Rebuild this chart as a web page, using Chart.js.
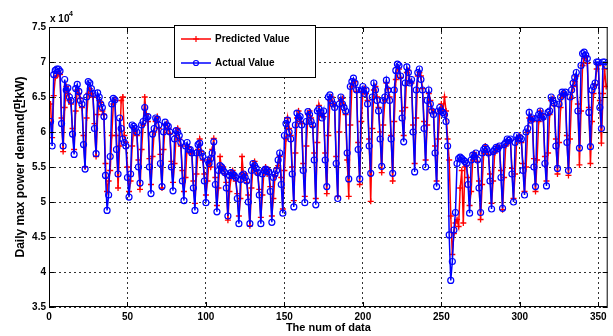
<!DOCTYPE html>
<html>
<head>
<meta charset="utf-8">
<script src="https://cdn.jsdelivr.net/npm/chart.js@4/dist/chart.umd.min.js"></script>
<style>
  html, body { margin: 0; padding: 0; background: #fff; }
  canvas { display: block; }
</style>
</head>
<body>
<canvas id="chart" width="613" height="336"></canvas>
<script>
// daily max power demand, units of 10^4 (rows of 7 days, Sat..Fri)
const actualDemand = [
  6.15, 5.80, 6.82, 6.88, 6.90, 6.90, 6.87,
  6.12, 5.80, 6.75, 6.60, 6.63, 6.50, 6.45,
  5.97, 5.68, 6.62, 6.68, 6.58, 6.45, 6.40,
  5.82, 5.47, 6.50, 6.72, 6.70, 6.62, 6.55,
  6.05, 5.69, 6.56, 6.50, 6.40, 6.35, 6.22,
  5.38, 4.88, 5.10, 5.65, 6.40, 6.48, 6.46,
  5.75, 5.40, 6.20, 6.05, 5.90, 5.85, 5.80,
  5.35, 5.07, 5.40, 6.10, 6.08, 6.05, 6.00,
  5.50, 5.27, 6.10, 6.15, 6.35, 6.20, 6.22,
  5.50, 5.12, 5.97, 6.05, 6.20, 6.18, 6.10,
  5.55, 5.22, 6.00, 6.14, 6.10, 6.08, 6.00,
  5.50, 5.16, 5.90, 6.02, 6.00, 5.95, 5.85,
  5.30, 5.02, 5.80, 5.85, 5.75, 5.75, 5.70,
  5.20, 4.88, 5.70, 5.82, 5.84, 5.70, 5.65,
  5.30, 4.99, 5.60, 5.55, 5.62, 5.70, 5.86,
  5.25, 4.86, 5.45, 5.52, 5.50, 5.45, 5.42,
  5.20, 4.80, 5.38, 5.42, 5.40, 5.38, 5.35,
  5.05, 4.69, 5.32, 5.38, 5.40, 5.35, 5.30,
  5.00, 4.69, 5.45, 5.55, 5.52, 5.48, 5.42,
  5.10, 4.69, 5.40, 5.45, 5.47, 5.45, 5.43,
  5.15, 4.71, 5.35, 5.40, 5.45, 5.60, 5.70,
  5.25, 4.84, 5.95, 6.12, 6.17, 6.00, 5.90,
  5.40, 4.93, 6.10, 6.27, 6.20, 6.22, 6.10,
  5.45, 4.99, 6.15, 6.29, 6.25, 6.15, 6.10,
  5.60, 4.96, 6.30, 6.33, 6.28, 6.20, 6.30,
  5.60, 5.22, 6.50, 6.53, 6.45, 6.40, 6.35,
  5.55, 5.05, 6.40, 6.50, 6.40, 6.35, 6.30,
  5.70, 5.33, 6.65, 6.72, 6.77, 6.70, 6.60,
  5.75, 5.33, 6.60, 6.65, 6.55, 6.60, 6.40,
  5.80, 5.41, 6.50, 6.70, 6.60, 6.45, 6.30,
  5.90, 5.51, 6.45, 6.50, 6.74, 6.60, 6.45,
  5.90, 5.41, 6.60, 6.88, 6.97, 6.95, 6.80,
  6.20, 5.86, 6.70, 6.93, 6.85, 6.70, 6.75,
  6.00, 5.43, 6.60, 6.85, 6.90, 6.75, 6.60,
  6.05, 5.50, 6.45, 6.60, 6.40, 6.30, 6.25,
  5.70, 5.22, 6.30, 6.35, 6.30, 6.28, 6.25,
  6.15, 5.80, 4.53, 3.88, 4.15, 4.60, 4.85,
  5.55, 5.62, 5.64, 5.62, 5.60, 5.58, 5.55,
  5.25, 4.84, 5.60, 5.67, 5.65, 5.70, 5.60,
  5.20, 4.85, 5.70, 5.75, 5.78, 5.75, 5.70,
  5.30, 4.90, 5.72, 5.75, 5.78, 5.76, 5.80,
  5.35, 4.91, 5.82, 5.85, 5.90, 5.88, 5.90,
  5.40, 5.00, 5.85, 5.95, 5.90, 5.92, 5.90,
  5.45, 5.10, 6.00, 6.05, 6.28, 6.17, 6.20,
  5.50, 5.22, 6.20, 6.25, 6.30, 6.20, 6.22,
  5.55, 5.23, 6.28, 6.30, 6.50, 6.45, 6.41,
  5.80, 5.48, 6.40, 6.50, 6.57, 6.55, 6.57,
  5.85, 5.45, 6.50, 6.60, 6.70, 6.78, 6.85,
  6.30, 5.77, 6.95, 7.12, 7.14, 7.10, 7.05,
  6.28, 5.79, 6.60, 6.65, 6.70, 7.00, 7.00,
  6.35, 6.05, 7.00, 7.00, 6.95
];

const predictedDemand = [
  6.40, 5.92, 6.52, 6.78, 6.80, 6.85, 6.82,
  6.20, 5.72, 6.35, 6.65, 6.55, 6.45, 6.40,
  6.05, 5.75, 6.30, 6.60, 6.55, 6.48, 6.35,
  5.95, 5.50, 6.20, 6.55, 6.62, 6.55, 6.50,
  6.12, 5.65, 6.25, 6.45, 6.42, 6.30, 6.25,
  5.55, 5.15, 5.30, 5.45, 5.95, 6.40, 6.45,
  5.95, 5.20, 5.80, 6.45, 6.50, 5.95, 5.85,
  5.50, 5.15, 5.30, 5.80, 6.05, 6.00, 5.95,
  5.60, 5.18, 5.75, 6.10, 6.50, 6.25, 6.15,
  5.62, 5.25, 5.65, 6.00, 6.15, 6.22, 6.05,
  5.68, 5.20, 5.75, 6.10, 6.12, 6.05, 5.98,
  5.58, 5.28, 5.55, 5.95, 6.05, 5.90, 5.80,
  5.45, 5.15, 5.35, 5.80, 5.78, 5.70, 5.72,
  5.30, 4.98, 5.40, 5.75, 5.90, 5.72, 5.60,
  5.40, 5.10, 5.30, 5.60, 5.50, 5.75, 5.91,
  5.35, 4.95, 5.20, 5.65, 5.45, 5.50, 5.40,
  5.28, 4.74, 5.15, 5.35, 5.45, 5.38, 5.30,
  5.12, 4.80, 5.05, 5.65, 5.35, 5.40, 5.28,
  5.10, 4.66, 5.20, 5.50, 5.58, 5.45, 5.40,
  5.18, 4.78, 5.10, 5.45, 5.50, 5.40, 5.46,
  5.22, 4.80, 5.05, 5.38, 5.48, 5.52, 5.65,
  5.35, 4.90, 5.45, 5.90, 6.20, 6.05, 5.95,
  5.50, 5.02, 5.70, 6.20, 6.30, 6.15, 6.12,
  5.55, 5.08, 5.80, 6.25, 6.30, 6.20, 6.08,
  5.70, 5.05, 5.85, 6.38, 6.25, 6.25, 6.22,
  5.70, 5.12, 5.95, 6.45, 6.50, 6.40, 6.38,
  5.65, 5.08, 6.00, 6.45, 6.48, 6.38, 6.25,
  5.60, 5.08, 6.10, 6.65, 6.70, 6.72, 6.58,
  5.85, 5.25, 6.15, 6.58, 6.62, 6.55, 6.45,
  5.90, 5.01, 6.05, 6.60, 6.65, 6.50, 6.35,
  6.00, 5.42, 6.10, 6.45, 6.70, 6.62, 6.50,
  5.95, 5.30, 6.15, 6.75, 6.92, 6.90, 6.78,
  6.30, 5.95, 6.35, 6.85, 6.88, 6.72, 6.70,
  6.10, 5.55, 6.20, 6.80, 6.85, 6.80, 6.62,
  6.15, 5.60, 6.10, 6.55, 6.45, 6.32, 6.28,
  5.80, 5.30, 5.90, 6.30, 6.40, 6.30, 6.50,
  6.30, 5.90, 5.60, 4.80, 4.25, 4.55, 4.70,
  4.75, 4.65, 5.20, 5.45, 4.70, 5.50, 5.52,
  5.35, 4.95, 5.15, 5.60, 5.70, 5.65, 5.58,
  5.30, 4.75, 5.25, 5.70, 5.80, 5.72, 5.68,
  5.40, 4.98, 5.30, 5.70, 5.75, 5.80, 5.78,
  5.45, 4.89, 5.35, 5.80, 5.88, 5.85, 5.88,
  5.48, 5.05, 5.40, 5.90, 5.92, 5.95, 5.85,
  5.55, 5.15, 5.50, 6.00, 6.20, 6.22, 6.15,
  5.62, 5.15, 5.60, 6.15, 6.30, 6.25, 6.18,
  5.65, 5.30, 5.70, 6.25, 6.45, 6.48, 6.38,
  5.90, 5.40, 5.85, 6.35, 6.52, 6.55, 6.52,
  5.95, 5.38, 5.90, 6.48, 6.65, 6.72, 6.80,
  6.40, 5.53, 6.30, 6.95, 7.05, 7.08, 6.98,
  6.35, 5.55, 6.15, 6.55, 6.68, 6.90, 6.95,
  6.45, 5.84, 6.55, 6.90, 6.65
];

const seriesNames = ["Predicted Value", "Actual Value"];
const xTickValues = [0, 50, 100, 150, 200, 250, 300, 350];
const yTickValues = [3.5, 4, 4.5, 5, 5.5, 6, 6.5, 7, 7.5];
const yTickLabels = ["3.5", "4", "4.5", "5", "5.5", "6", "6.5", "7", "7.5"];

const FONT = 'Arial, "Liberation Sans", "Noto Sans CJK KR", sans-serif';
const RED = "#ff0000";
const BLUE = "#0000ff";

// box, inside ticks, legend and the x10^4 multiplier (matlab look)
const matlabFrame = {
  id: "matlabFrame",
  afterDatasetsDraw(chart) {
    const { ctx, chartArea: a, scales } = chart;
    ctx.save();
    ctx.strokeStyle = "#000";
    ctx.lineWidth = 1;
    ctx.strokeRect(a.left + 0.5, a.top + 0.5, a.right - a.left - 1, a.bottom - a.top - 1);
    ctx.beginPath();
    xTickValues.forEach(v => {
      const px = Math.round(scales.x.getPixelForValue(v)) + 0.5;
      ctx.moveTo(px, a.bottom); ctx.lineTo(px, a.bottom - 5);
      ctx.moveTo(px, a.top); ctx.lineTo(px, a.top + 5);
    });
    yTickValues.forEach(v => {
      const py = Math.round(scales.y.getPixelForValue(v)) + 0.5;
      ctx.moveTo(a.left, py); ctx.lineTo(a.left + 5, py);
      ctx.moveTo(a.right, py); ctx.lineTo(a.right - 5, py);
    });
    ctx.stroke();
    ctx.restore();
  },
  afterDraw(chart) {
    const { ctx, chartArea: a } = chart;
    ctx.save();
    // exponent label
    ctx.fillStyle = "#000";
    ctx.textBaseline = "alphabetic";
    ctx.font = "bold 10px " + FONT;
    ctx.fillText("x 10", a.left + 1, a.top - 5);
    ctx.font = "bold 7px " + FONT;
    ctx.fillText("4", a.left + 20, a.top - 11);

    // legend
    const lx = 174, ly = 25, lw = 141, lh = 52;
    ctx.fillStyle = "#fff";
    ctx.fillRect(lx, ly, lw, lh);
    ctx.strokeStyle = "#000";
    ctx.lineWidth = 1;
    ctx.strokeRect(lx + 0.5, ly + 0.5, lw, lh);
    const rows = [
      { name: seriesNames[0], color: RED, marker: "cross", y: ly + 14 },
      { name: seriesNames[1], color: BLUE, marker: "circle", y: ly + 38 }
    ];
    rows.forEach(r => {
      ctx.strokeStyle = r.color;
      ctx.lineWidth = 1.5;
      ctx.beginPath();
      ctx.moveTo(lx + 7, r.y);
      ctx.lineTo(lx + 37, r.y);
      ctx.stroke();
      const cx = lx + 22;
      ctx.lineWidth = 1.2;
      ctx.beginPath();
      if (r.marker === "cross") {
        ctx.moveTo(cx, r.y - 3); ctx.lineTo(cx, r.y + 3);
        ctx.moveTo(cx - 3, r.y); ctx.lineTo(cx + 3, r.y);
      } else {
        ctx.arc(cx, r.y, 2.5, 0, Math.PI * 2);
      }
      ctx.stroke();
      ctx.fillStyle = "#000";
      ctx.font = "bold 10px " + FONT;
      ctx.textBaseline = "middle";
      ctx.fillText(r.name, lx + 41, r.y);
    });
    ctx.restore();
  }
};

const toPoints = arr => arr.map((v, i) => ({ x: i + 1, y: v }));

new Chart(document.getElementById("chart").getContext("2d"), {
  type: "line",
  data: {
    datasets: [
      {
        label: seriesNames[0],
        data: toPoints(predictedDemand),
        borderColor: RED,
        borderWidth: 1.5,
        pointStyle: "cross",
        pointRadius: 3,
        pointBorderColor: RED,
        pointBorderWidth: 1.3,
        pointBackgroundColor: RED,
        tension: 0,
        order: 2
      },
      {
        label: seriesNames[1],
        data: toPoints(actualDemand),
        borderColor: BLUE,
        borderWidth: 1.5,
        pointStyle: "circle",
        pointRadius: 3,
        pointBorderColor: BLUE,
        pointBorderWidth: 1.2,
        pointBackgroundColor: "rgba(0,0,0,0)",
        tension: 0,
        order: 1
      }
    ]
  },
  options: {
    responsive: false,
    devicePixelRatio: 1,
    animation: false,
    layout: { padding: { top: 27, right: 1, left: 0, bottom: 0 } },
    plugins: {
      legend: { display: false },
      tooltip: { enabled: false }
    },
    scales: {
      x: {
        type: "linear",
        min: 0,
        max: 356,
        afterBuildTicks: s => { s.ticks = xTickValues.map(v => ({ value: v })); },
        afterFit: s => { s.height = 29; },
        grid: { color: "#333", lineWidth: 1, drawTicks: false },
        border: { display: false, dash: [2, 3] },
        ticks: {
          color: "#000",
          padding: 4,
          maxRotation: 0,
          font: { family: FONT, size: 10, weight: "bold" },
          callback: v => String(v)
        },
        title: {
          display: true,
          text: "The num of data",
          color: "#000",
          padding: { top: 0, bottom: 1 },
          font: { family: FONT, size: 11, weight: "bold" }
        }
      },
      y: {
        min: 3.5,
        max: 7.5,
        afterBuildTicks: s => { s.ticks = yTickValues.map(v => ({ value: v })); },
        afterFit: s => { s.width = 49; },
        grid: { color: "#333", lineWidth: 1, drawTicks: false },
        border: { display: false, dash: [2, 3] },
        ticks: {
          color: "#000",
          padding: 3,
          font: { family: FONT, size: 10, weight: "bold" },
          callback: (v, i) => yTickLabels[i]
        },
        title: {
          display: true,
          text: "Daily max power demand(만kW)",
          color: "#000",
          padding: { top: 13, bottom: 0 },
          font: { family: FONT, size: 12, weight: "bold" }
        }
      }
    }
  },
  plugins: [matlabFrame]
});
</script>
</body>
</html>
